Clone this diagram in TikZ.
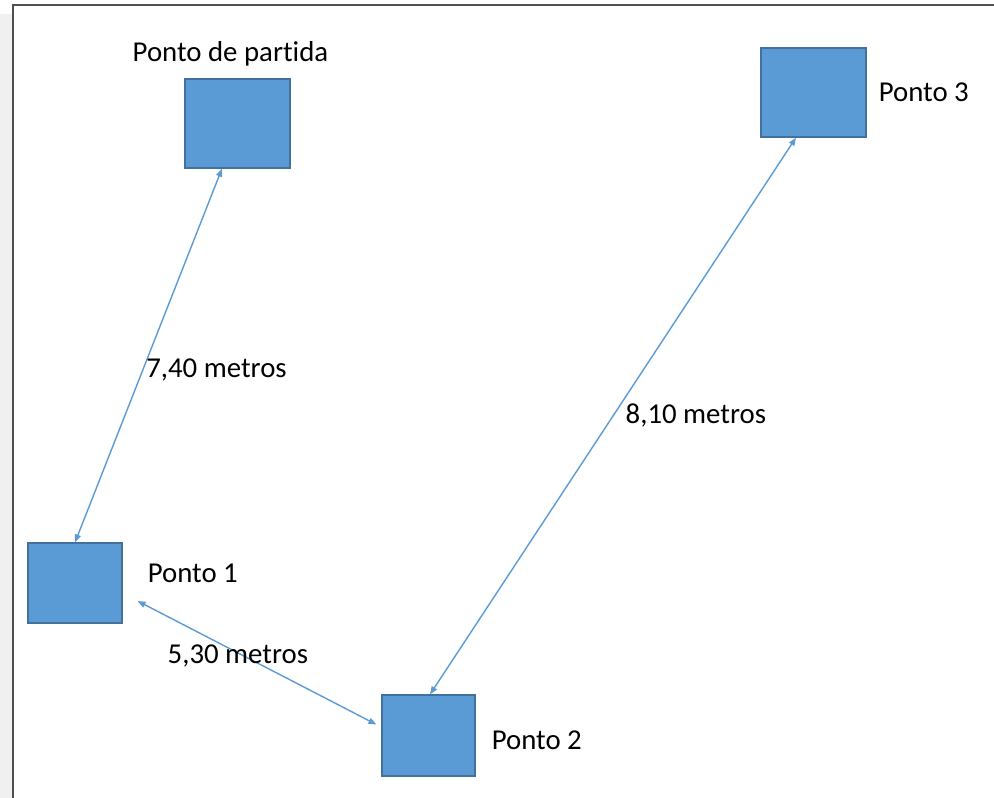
\documentclass[tikz,border=0pt]{standalone}
\usepackage{fontspec}
\setmainfont{Carlito}[Ligatures=NoCommon]
\usepackage{tikz}
\usetikzlibrary{arrows.meta, positioning}
\usepackage{xcolor}
\definecolor{boxblue}{HTML}{5B9BD5}
\definecolor{boxedge}{HTML}{41719C}
\definecolor{framegray}{HTML}{505050}

\begin{document}
\begin{tikzpicture}[x=1pt, y=-1pt, font=\fontsize{28.8}{34}\selectfont]
    % Define styles
    \tikzstyle{ponto}=[draw=boxedge, fill=boxblue, line width=1.2pt, rectangle, inner sep=0pt]
    \tikzstyle{dist}=[{Triangle[length=8pt,width=6pt]}-{Triangle[length=8pt,width=6pt]}, boxblue, line width=1.4pt]
    \tikzstyle{txt}=[inner sep=0pt, text=black]

    % Canvas and frame
    \useasboundingbox (0,0) rectangle (994,798);
    \fill[white] (0,0) rectangle (994,798);
    \fill[black!6] (0,14) rectangle (13,798);
    \draw[framegray, line width=2pt] (13,798) -- (13,5) -- (994,5);

    % Squares
    \node[ponto, minimum width=105pt, minimum height=89pt] (partida) at (237.5,123.5) {};
    \node[ponto, minimum width=105pt, minimum height=89pt] (p3) at (813.5,92.5) {};
    \node[ponto, minimum width=94pt, minimum height=80pt] (p1) at (75,583) {};
    \node[ponto, minimum width=93pt, minimum height=81pt] (p2) at (428.5,735.5) {};

    % Names
    \node[txt, above=12pt of partida, xshift=-7pt] (lpartida) {Ponto de partida};
    \node[txt, right=12pt of p3] (lp3) {Ponto 3};
    \node[txt, right=25pt of p1, yshift=10pt] (lp1) {Ponto 1};
    \node[txt, right=16pt of p2, yshift=-5pt] (lp2) {Ponto 2};

    % Distances
    \draw[dist] ([xshift=-15.5pt]partida.south) -- (p1.north)
        node[txt, pos=0.54, anchor=west, xshift=3pt] (d1) {7,40 metros};
    \draw[dist] ([xshift=15pt, yshift=-18pt]p1.east) -- ([xshift=-5pt, yshift=11pt]p2.west)
        node[txt, pos=0.42, yshift=-3pt] (d2) {5,30 metros};
    \draw[dist] ([xshift=1.5pt]p2.north) -- ([xshift=-17.5pt]p3.south)
        node[txt, pos=0.5, anchor=west, xshift=12pt] (d3) {8,10 metros};
\end{tikzpicture}
\end{document}
